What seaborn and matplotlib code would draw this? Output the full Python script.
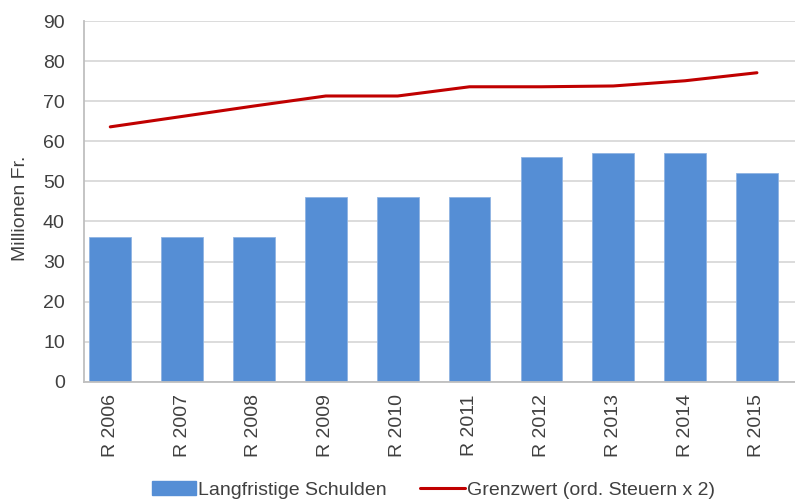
import matplotlib
matplotlib.use("Agg")
import matplotlib.pyplot as plt
import seaborn as sns
import pandas as pd
from matplotlib.patches import Patch
from matplotlib.lines import Line2D

categories = ["R 2006", "R 2007", "R 2008", "R 2009", "R 2010",
              "R 2011", "R 2012", "R 2013", "R 2014", "R 2015"]
schulden = [36.0, 36.0, 36.0, 46.2, 46.2, 46.2, 56.2, 57.0, 57.0, 52.0]
grenzwert = [63.6, 66.2, 68.8, 71.3, 71.3, 73.6, 73.6, 73.8, 75.1, 77.1]
yticks = [0, 10, 20, 30, 40, 50, 60, 70, 80, 90]

sns.set_theme(style="white")
plt.rcParams["font.family"] = ["Liberation Sans", "DejaVu Sans"]

df = pd.DataFrame({"cat": categories, "schulden": schulden, "grenzwert": grenzwert})

fig = plt.figure(figsize=(7.95, 5.01), dpi=100)
ax = fig.add_axes([0.106, 0.238, 0.894, 0.720])

bar_color = "#558ED5"
line_color = "#C00000"
text_color = "#404040"

sns.barplot(data=df, x="cat", y="schulden", color=bar_color, saturation=1,
            width=0.58, ax=ax, zorder=2, edgecolor="#8fb4e3", linewidth=0.6)
sns.pointplot(data=df, x="cat", y="grenzwert", color=line_color, markers="",
              linestyles="-", ax=ax, zorder=3)
for l in ax.lines:
    l.set_linewidth(2.2)
    l.set_solid_capstyle("round")

ax.set_ylim(0, 90)
ax.set_yticks(yticks)
ax.set_xlim(-0.362, 9.53)
ax.yaxis.grid(True, color="#d9d9d9", linewidth=1.3, zorder=0)
ax.set_axisbelow(True)
for s in ["top", "right"]:
    ax.spines[s].set_visible(False)
for s in ["left", "bottom"]:
    ax.spines[s].set_color("#bfbfbf")
    ax.spines[s].set_linewidth(1.3)

ax.tick_params(axis="y", labelsize=14, colors=text_color, length=0, pad=14)
ax.tick_params(axis="x", labelsize=14, colors=text_color, length=0, pad=9, labelrotation=90)
ax.set_xlabel("")
ax.set_ylabel("Millionen Fr.", fontsize=14, color=text_color)
ax.yaxis.set_label_coords(-0.078, 0.482)

handles = [Patch(facecolor=bar_color, edgecolor=bar_color, label="Langfristige Schulden"),
           Line2D([0], [0], color=line_color, linewidth=2.2, label="Grenzwert (ord. Steuern x 2)")]
fig.legend(handles=handles, loc="center", bbox_to_anchor=(0.545, 0.022), ncol=2,
           frameon=False, fontsize=14, handlelength=2.3, handleheight=0.75,
           handletextpad=0.1, columnspacing=1.7, labelcolor=text_color,
           borderaxespad=0, borderpad=0)

fig.savefig("out.png", dpi=100)
